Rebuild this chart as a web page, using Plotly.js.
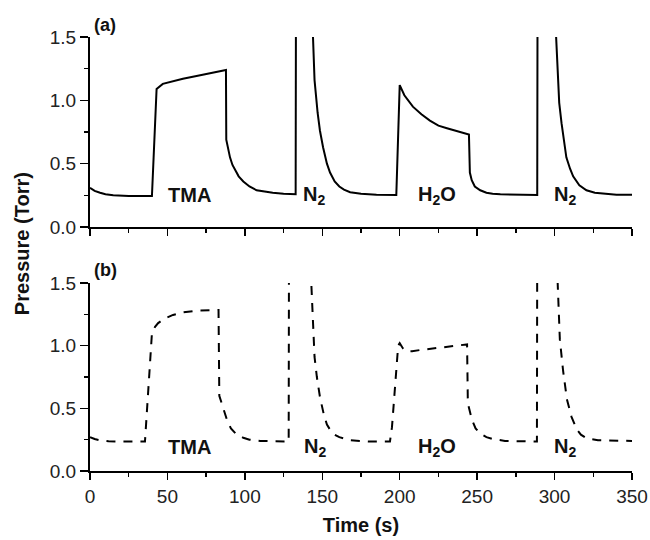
<!DOCTYPE html>
<html>
<head>
<meta charset="utf-8">
<script src="https://cdn.plot.ly/plotly-3.0.1.min.js"></script>
<style>html,body{margin:0;padding:0;background:#fff;}#chart{width:650px;height:540px;}</style>
</head>
<body>
<div id="chart"></div>
<script>
// Panel (a): solid trace
var timeA = [0, 3, 6.5, 10, 15, 25, 40, 42.5, 43, 47, 53, 60, 68, 75.5, 82, 87.8, 88, 89, 90.4, 92, 93.6, 96, 99, 103, 107.6, 112, 118, 125, 132.8, 133, 143.8, 144, 145, 147, 148.5, 150.5, 153, 155, 158, 161, 164, 168, 175, 185, 197.8, 200, 203, 208.5, 214, 219.5, 225, 230.5, 237, 244.7, 245.3, 246.5, 248.5, 252, 256, 260, 265, 275, 288.8, 289, 300.8, 301, 302, 303, 304.5, 306, 307.6, 310, 312, 316, 320.6, 326, 333.5, 340, 350];
var pressureA = [0.31, 0.285, 0.27, 0.258, 0.25, 0.245, 0.245, 1.06, 1.09, 1.13, 1.15, 1.17, 1.19, 1.21, 1.225, 1.24, 0.69, 0.62, 0.55, 0.49, 0.45, 0.40, 0.36, 0.32, 0.29, 0.28, 0.27, 0.262, 0.258, 1.8, 1.8, 1.5, 1.16, 0.90, 0.76, 0.63, 0.50, 0.43, 0.36, 0.32, 0.295, 0.275, 0.262, 0.255, 0.252, 1.12, 1.04, 0.95, 0.89, 0.84, 0.80, 0.78, 0.755, 0.73, 0.43, 0.37, 0.32, 0.29, 0.27, 0.262, 0.258, 0.255, 0.252, 1.8, 1.8, 1.5, 1.16, 0.98, 0.82, 0.68, 0.55, 0.46, 0.40, 0.33, 0.29, 0.27, 0.26, 0.255, 0.255];

// Panel (b): dashed trace
var timeB = [0, 3, 6.5, 12, 20, 35.5, 40, 42, 44, 48, 53.6, 60, 69, 76, 83, 83.5, 86, 88.4, 91, 94.7, 99, 103, 110, 120, 128.3, 128.5, 142.8, 143, 145, 146.5, 148.5, 151, 153, 155, 158, 161, 168, 180, 193.7, 195, 199, 200, 202, 204.5, 208, 213, 220, 228, 235, 241, 243.5, 244, 246.6, 249, 251.8, 256, 260, 268, 280, 288.6, 288.8, 301.8, 302, 303.4, 305.5, 308, 311, 314.4, 317, 320.8, 328, 340, 350];
var pressureB = [0.27, 0.255, 0.245, 0.238, 0.235, 0.235, 1.10, 1.15, 1.18, 1.215, 1.245, 1.265, 1.28, 1.285, 1.285, 0.60, 0.50, 0.41, 0.34, 0.29, 0.265, 0.25, 0.24, 0.235, 0.235, 1.8, 1.8, 1.47, 0.91, 0.75, 0.59, 0.45, 0.37, 0.33, 0.29, 0.27, 0.245, 0.235, 0.235, 0.35, 1.00, 1.02, 0.98, 0.955, 0.955, 0.965, 0.975, 0.99, 1.00, 1.01, 1.01, 0.54, 0.41, 0.34, 0.30, 0.27, 0.255, 0.24, 0.235, 0.235, 1.8, 1.8, 1.5, 1.05, 0.80, 0.57, 0.43, 0.33, 0.29, 0.26, 0.245, 0.24, 0.24];

var stepLabels = ['TMA', 'N<sub>2</sub>', 'H<sub>2</sub>O', 'N<sub>2</sub>'];
var panelLabels = ['(a)', '(b)'];
var yTickVals = [0, 0.5, 1.0, 1.5];
var yTickText = ['0.0', '0.5', '1.0', '1.5'];
var xTickVals = [0, 50, 100, 150, 200, 250, 300, 350];
var xTickText = ['0', '50', '100', '150', '200', '250', '300', '350'];

var FONT = 'Liberation Sans, Arial, Helvetica, sans-serif';

var traces = [
  {x: timeA, y: pressureA, xaxis: 'x', yaxis: 'y', mode: 'lines', type: 'scatter',
   line: {color: '#000', width: 2}, hoverinfo: 'skip', showlegend: false},
  {x: timeB, y: pressureB, xaxis: 'x2', yaxis: 'y2', mode: 'lines', type: 'scatter',
   line: {color: '#000', width: 2, dash: '9px,8px'}, hoverinfo: 'skip', showlegend: false}
];

function xAxis(anchor, labels) {
  return {
    anchor: anchor, domain: [0, 1], range: [0, 350],
    tickmode: 'array', tickvals: xTickVals, ticktext: xTickText,
    showticklabels: labels,
    ticks: 'outside', ticklen: 7, tickwidth: 1.5, tickcolor: '#000',
    minor: {ticks: 'outside', dtick: 25, tick0: 0, ticklen: 4, tickwidth: 1.5, tickcolor: '#000'},
    showline: true, linecolor: '#000', linewidth: 2, mirror: false,
    showgrid: false, zeroline: false,
    tickfont: {family: FONT, size: 19, color: '#222'}
  };
}
function yAxis(anchor, domain) {
  return {
    anchor: anchor, domain: domain, range: [0, 1.5],
    tickmode: 'array', tickvals: yTickVals, ticktext: yTickText,
    ticks: 'outside', ticklen: 8, tickwidth: 1.5, tickcolor: '#000',
    minor: {ticks: 'outside', dtick: 0.25, tick0: 0, ticklen: 4, tickwidth: 1.5, tickcolor: '#000'},
    showline: true, linecolor: '#000', linewidth: 2, mirror: false,
    showgrid: false, zeroline: false,
    tickfont: {family: FONT, size: 19, color: '#222'}
  };
}

var xa = xAxis('y', false);
var xb = xAxis('y2', true);
xb.title = {text: '<b>Time (s)</b>', font: {family: FONT, size: 20, color: '#111'}, standoff: 12};

var labelFont = {family: FONT, size: 20, color: '#111'};
var annotations = [];
var posA = [64, 144.6, 224, 306.7];
var posB = [64, 145, 224, 306.7];
for (var i = 0; i < stepLabels.length; i++) {
  annotations.push({xref: 'x', yref: 'y', x: posA[i], y: 0.25, text: '<b>' + stepLabels[i] + '</b>',
    showarrow: false, font: labelFont, xanchor: 'center', yanchor: 'middle'});
  annotations.push({xref: 'x2', yref: 'y2', x: posB[i], y: 0.19, text: '<b>' + stepLabels[i] + '</b>',
    showarrow: false, font: labelFont, xanchor: 'center', yanchor: 'middle'});
}
annotations.push({xref: 'paper', yref: 'paper', x: 0.004, y: 1.0276, text: '<b>' + panelLabels[0] + '</b>',
  showarrow: false, font: {family: FONT, size: 18, color: '#111'}, xanchor: 'left', yanchor: 'middle'});
annotations.push({xref: 'paper', yref: 'paper', x: 0.004, y: 0.463, text: '<b>' + panelLabels[1] + '</b>',
  showarrow: false, font: {family: FONT, size: 18, color: '#111'}, xanchor: 'left', yanchor: 'middle'});
annotations.push({xref: 'paper', yref: 'paper', x: -0.1255, y: 0.525, text: '<b>Pressure (Torr)</b>',
  textangle: -90, showarrow: false, font: {family: FONT, size: 20, color: '#111'}, xanchor: 'center', yanchor: 'middle'});

var layout = {
  width: 650, height: 540,
  margin: {l: 90, r: 18, t: 37, b: 69, pad: 0},
  paper_bgcolor: '#fff', plot_bgcolor: '#fff',
  showlegend: false,
  xaxis: xa,
  yaxis: yAxis('x', [0.5622, 1]),
  xaxis2: xb,
  yaxis2: yAxis('x2', [0, 0.4332]),
  annotations: annotations
};

Plotly.newPlot('chart', traces, layout, {staticPlot: true, displayModeBar: false});
</script>
</body>
</html>
